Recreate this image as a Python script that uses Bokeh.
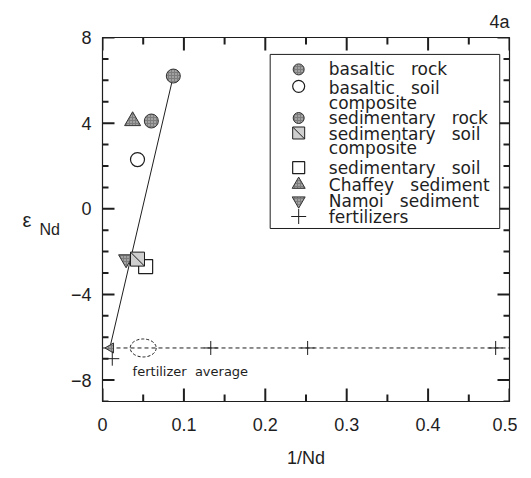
import numpy as np
from bokeh.plotting import figure
from bokeh.models import LinearAxis, FixedTicker, Label, Range1d, Title
from bokeh.embed import file_html
from bokeh.resources import INLINE

# ---------------- data ----------------
basaltic_rock_x = [0.087]
basaltic_rock_y = [6.2]
basaltic_soil_x = [0.043]
basaltic_soil_y = [2.3]
sed_rock_x = [0.060]
sed_rock_y = [4.1]
sed_soil_comp_x = [0.043]
sed_soil_comp_y = [-2.35]
sed_soil_x = [0.053]
sed_soil_y = [-2.7]
chaffey_x = [0.037]
chaffey_y = [4.1]
namoi_x = [0.029]
namoi_y = [-2.35]
fert_x = [0.012, 0.133, 0.252, 0.483]
fert_y = [-7.0, -6.5, -6.5, -6.5]
fert_end_x = [0.010]
fert_end_y = [-6.5]
fert_avg_x = [0.050]
fert_avg_y = [-6.5]
mix_line_x = [0.087, 0.009]
mix_line_y = [6.2, -6.5]

x_ticks = [0, 0.1, 0.2, 0.3, 0.4, 0.5]
x_minor = [0.05, 0.15, 0.25, 0.35, 0.45]
y_ticks = [-8, -4, 0, 4, 8]
y_minor = [v for v in range(-9, 9) if v not in (-8, -4, 0, 4, 8)]

SP = "\u00a0\u00a0\u00a0"
legend_labels = ["basaltic" + SP + "rock", "basaltic" + SP + "soil\ncomposite", "sedimentary" + SP + "rock",
                 "sedimentary" + SP + "soil\ncomposite", "sedimentary" + SP + "soil", "Chaffey" + SP + "sediment",
                 "Namoi" + SP + "sediment", "fertilizers"]

INK = "#1e1e1e"
GREY = "#7d7d7d"
FONT = "Liberation Sans"

X0, X1, Y0, Y1 = 0, 0.5, -9, 8
p = figure(width=517, height=470, output_backend="svg", toolbar_location=None,
           x_range=Range1d(X0, X1), y_range=Range1d(Y0, Y1),
           x_axis_location=None, y_axis_location=None,
           min_border_left=102, min_border_right=8, min_border_top=37, min_border_bottom=67)
p.grid.visible = False
p.outline_line_color = INK
p.outline_line_width = 1.2
p.background_fill_color = "white"
p.border_fill_color = "white"

# axes (tick labels; tick marks drawn inward below)
bx = LinearAxis(ticker=FixedTicker(ticks=x_ticks, minor_ticks=[]))
bx.major_label_overrides = {0: "0", 0.1: "0.1", 0.2: "0.2", 0.3: "0.3", 0.4: "0.4", 0.5: "0.5"}
lx = LinearAxis(ticker=FixedTicker(ticks=y_ticks, minor_ticks=[]))
for ax in (bx, lx):
    ax.axis_line_color = INK
    ax.major_tick_in = 0
    ax.major_tick_out = 0
    ax.minor_tick_in = 0
    ax.minor_tick_out = 0
    ax.major_tick_line_color = None
    ax.minor_tick_line_color = None
    ax.major_label_text_font = FONT
    ax.major_label_text_font_size = "18px"
    ax.major_label_text_color = INK
bx.major_label_standoff = 16
bx.axis_label = "1/Nd"
bx.axis_label_text_font = FONT
bx.axis_label_text_font_size = "18px"
bx.axis_label_text_font_style = "normal"
bx.axis_label_text_color = INK
bx.axis_label_standoff = 14
lx.major_label_standoff = 11
lx.axis_label = "\u00a0\nNd"
lx.axis_label_orientation = "horizontal"
lx.axis_label_text_font = FONT
lx.axis_label_text_font_size = "16px"
lx.axis_label_text_font_style = "normal"
lx.axis_label_text_color = INK
lx.axis_label_text_line_height = 1.2
lx.axis_label_standoff = 8
p.add_layout(bx, "below")
p.add_layout(lx, "left")

ex = LinearAxis(ticker=FixedTicker(ticks=[]))
ex.axis_line_color = None
ex.major_tick_line_color = None
ex.minor_tick_line_color = None
ex.axis_label = "ε"
ex.axis_label_orientation = "horizontal"
ex.axis_label_text_font = FONT
ex.axis_label_text_font_size = "20px"
ex.axis_label_text_font_style = "normal"
ex.axis_label_text_color = INK
ex.axis_label_standoff = 5
p.add_layout(ex, "left")

p.add_layout(Title(text="4a", align="right", text_font=FONT, text_font_size="18px",
                   text_font_style="normal", text_color=INK, standoff=12), "above")

# inward ticks on all four sides: dash markers centred on the frame edges (outer half clipped)
tick_style = dict(marker="dash", line_color=INK, line_width=2)
for vals, size in ((x_ticks, 26), (x_minor, 14)):
    n = len(vals)
    p.scatter(vals, [Y0] * n, size=size, angle=np.pi / 2, **tick_style)
    p.scatter(vals, [Y1] * n, size=size, angle=np.pi / 2, **tick_style)
for vals, size in ((y_ticks, 24), (y_minor, 12)):
    n = len(vals)
    p.scatter([X0] * n, vals, size=size, **tick_style)
    p.scatter([X1] * n, vals, size=size, **tick_style)

# fertilizer average line and ellipse
p.line([X0, X1], [fert_avg_y[0], fert_avg_y[0]], line_color=INK, line_width=1, line_dash="4 3")
p.ellipse(fert_avg_x, fert_avg_y, width=26, height=18, width_units="screen", height_units="screen",
          fill_color=None, line_color=INK, line_width=1, line_dash="3 2")
# mixing line
p.line(mix_line_x, mix_line_y, line_color=INK, line_width=1)

# points
stip = dict(fill_color=GREY, line_color="#333333", hatch_pattern="dot", hatch_color="#d8d8d8",
            hatch_scale=3, hatch_weight=1)
p.scatter(basaltic_rock_x, basaltic_rock_y, marker="circle", size=14, **stip)
p.scatter(sed_rock_x, sed_rock_y, marker="circle", size=14, **stip)
p.scatter(chaffey_x, chaffey_y, marker="triangle", size=16, **stip)
p.scatter(basaltic_soil_x, basaltic_soil_y, marker="circle", size=14, fill_color="white",
          line_color=INK, line_width=1.2)
p.scatter(namoi_x, namoi_y, marker="inverted_triangle", size=15, **stip)
p.scatter(sed_soil_x, sed_soil_y, marker="square", size=14, fill_color="white", line_color=INK, line_width=1.2)
p.scatter(sed_soil_comp_x, sed_soil_comp_y, marker="square", size=14, fill_color="#cfcfcf",
          line_color=INK, line_width=1)
p.scatter(sed_soil_comp_x, sed_soil_comp_y, marker="dash", size=19, angle=-np.pi / 4,
          line_color=INK, line_width=1)
p.scatter(fert_end_x, fert_end_y, marker="triangle", size=10, angle=np.pi / 2, **stip)
p.scatter(fert_x, fert_y, marker="cross", size=14, line_color=INK, line_width=1)

# fertilizer average text
p.add_layout(Label(x=0.037, y=-7.6, text="fertilizer\u00a0\u00a0average", text_font="DejaVu Sans",
                   text_font_size="13px", text_color=INK, text_baseline="middle"))

# legend box (drawn manually)
lg_left, lg_right, lg_top, lg_bottom = 0.206, 0.488, 7.21, -0.92
p.quad(left=[lg_left], right=[lg_right], top=[lg_top], bottom=[lg_bottom],
       fill_color="white", line_color=INK, line_width=1)
mark_y = [6.51, 5.72, 4.24, 3.54, 1.92, 1.13, 0.38, -0.36]   # legend marker rows (layout)
text_y = [6.51, 5.63, 4.24, 3.49, 1.92, 1.13, 0.38, -0.36]   # legend text anchors (layout)
mk_x = 0.241
tx_x = 0.278
p.scatter([mk_x], [mark_y[0]], marker="circle", size=11, **stip)
p.scatter([mk_x], [mark_y[1]], marker="circle", size=12, fill_color="white", line_color=INK, line_width=1.2)
p.scatter([mk_x], [mark_y[2]], marker="circle", size=11, **stip)
p.scatter([mk_x], [mark_y[3]], marker="square", size=12, fill_color="#cfcfcf", line_color=INK, line_width=1)
p.scatter([mk_x], [mark_y[3]], marker="dash", size=16, angle=-np.pi / 4, line_color=INK, line_width=1)
p.scatter([mk_x], [mark_y[4]], marker="square", size=12, fill_color="white", line_color=INK, line_width=1.2)
p.scatter([mk_x], [mark_y[5]], marker="triangle", size=13, **stip)
p.scatter([mk_x], [mark_y[6]], marker="inverted_triangle", size=13, **stip)
p.scatter([mk_x], [mark_y[7]], marker="cross", size=15, line_color=INK, line_width=1)
for yy, lab in zip(text_y, legend_labels):
    multi = "\n" in lab
    p.add_layout(Label(x=tx_x, y=yy, text=lab, text_font="DejaVu Sans", text_font_size="17px",
                       text_color=INK, text_baseline="top" if multi else "middle",
                       y_offset=10 if multi else 0, text_line_height=0.72))

open("out.html", "w").write(file_html(p, INLINE))
